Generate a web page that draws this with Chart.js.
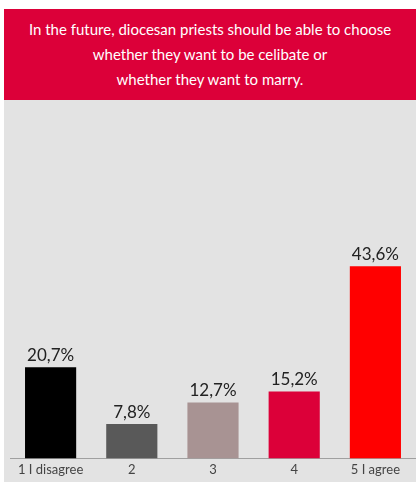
<!DOCTYPE html>
<html>
<head>
<meta charset="utf-8">
<script src="https://cdn.jsdelivr.net/npm/chart.js@4.4.1/dist/chart.umd.min.js"></script>
<style>
  body { margin: 0; background: #fff; font-family: Lato, "Open Sans", sans-serif; }
  #head {
    position: absolute; left: 4px; top: 9px; width: 412px; height: 91px;
    background: #dc0039; color: #fff; text-align: center;
    font-size: 15px; line-height: 25px; box-sizing: border-box; padding-top: 8px;
  }
  #box {
    position: absolute; left: 4px; top: 100px; width: 412px; height: 382px;
    background: #e3e3e3;
  }
</style>
</head>
<body>
<div id="head">In the future, diocesan priests should be able to choose<br>whether they want to be celibate or<br>whether they want to marry.</div>
<div id="box"><canvas id="chart"></canvas></div>
<script>
const categories = ["1 I disagree", "2", "3", "4", "5 I agree"];
const values = [20.7, 7.8, 12.7, 15.2, 43.6];
const barColors = ["#000000", "#595959", "#a89393", "#dc0039", "#ff0000"];

// percentage labels above each bar, comma decimal
const valueLabels = {
  id: "valueLabels",
  afterDatasetsDraw(chart) {
    const ctx = chart.ctx;
    const meta = chart.getDatasetMeta(0);
    ctx.save();
    ctx.font = "17px Lato, sans-serif";
    ctx.fillStyle = "#222";
    ctx.textAlign = "center";
    ctx.textBaseline = "bottom";
    meta.data.forEach((bar, i) => {
      ctx.fillText(values[i].toFixed(1).replace(".", ",") + "%", bar.x, bar.y - 3);
    });
    ctx.restore();
  }
};

const ctx = document.getElementById("chart").getContext("2d");

new Chart(ctx, {
  type: "bar",
  data: {
    labels: categories,
    datasets: [{
      data: values,
      backgroundColor: barColors,
      barPercentage: 0.63,
      categoryPercentage: 1
    }]
  },
  options: {
    responsive: true,
    maintainAspectRatio: false,
    animation: false,
    layout: { padding: { left: 6, right: 0, top: 94, bottom: 0 } },
    plugins: {
      legend: { display: false },
      tooltip: { enabled: false }
    },
    scales: {
      x: {
        grid: { display: false, drawTicks: false },
        border: { display: true, color: "#a0a0a0", width: 1 },
        ticks: {
          color: "#444",
          font: { family: "Lato", size: 13 },
          padding: 4
        }
      },
      y: {
        display: false,
        min: 0,
        max: 60
      }
    }
  },
  plugins: [valueLabels]
});
</script>
</body>
</html>
